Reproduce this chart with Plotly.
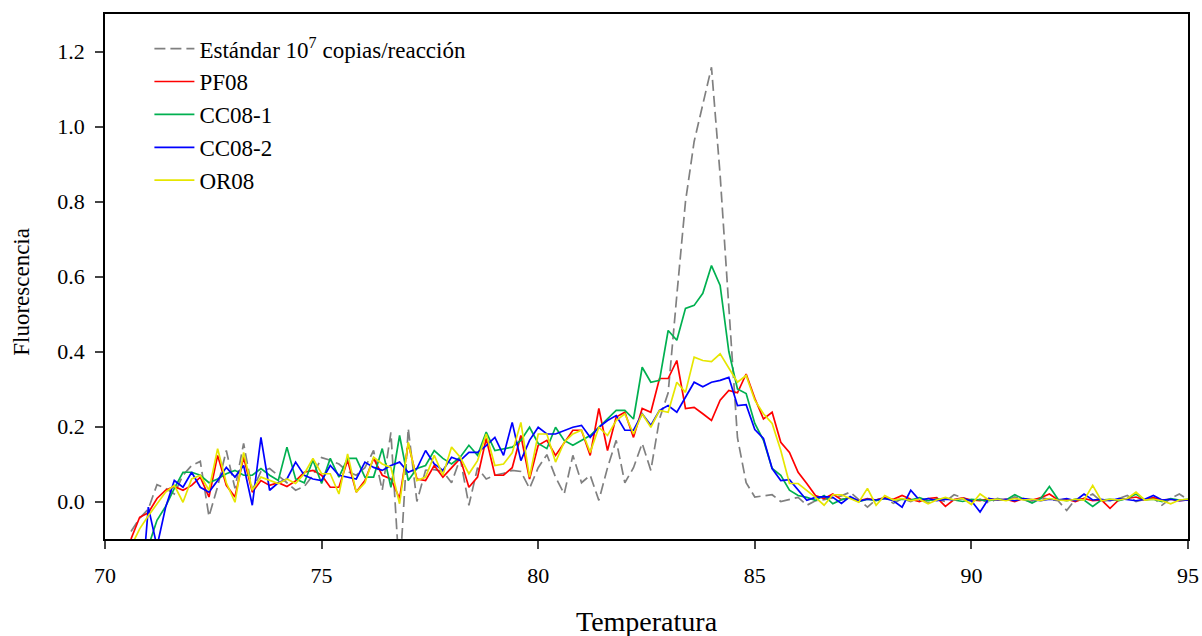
import plotly.graph_objects as go

# Temperature grid (°C), 0.2 °C steps
temperatura = [round(70.6 + 0.2 * i, 1) for i in range(123)]

estandar = [
    -0.08, -0.045, -0.02, 0.045, 0.035, 0.02, 0.07, 0.096, 0.107, -0.04,
    0.04, 0.136, 0.035, 0.155, 0.03, 0.08, 0.088, 0.07, 0.05, 0.03,
    0.04, 0.07, 0.117, 0.11, 0.1, 0.08, 0.07, 0.09, 0.136, 0.03,
    0.184, -0.2, 0.195, 0.0, 0.083, 0.085, 0.08, 0.05, 0.115, -0.01,
    0.09, 0.06, 0.07, 0.075, 0.083, 0.08, 0.035, 0.09, 0.125, 0.065,
    0.02, 0.123, 0.05, 0.07, 0.003, 0.09, 0.163, 0.05, 0.09, 0.155,
    0.083, 0.22, 0.29, 0.55, 0.80, 0.96, 1.06, 1.158, 0.87, 0.52,
    0.17, 0.05, 0.012, 0.015, 0.018, 0.0, 0.005, 0.011, -0.01, 0.002,
    0.005, 0.01, 0.015, 0.025, 0.005, -0.015, 0.005, 0.01, -0.005, 0.008,
    0.0, 0.01, -0.004, 0.006, 0.0, 0.018, 0.01, 0.0, 0.006, -0.004,
    0.008, 0.002, 0.012, 0.004, -0.002, 0.01, 0.006, 0.002, -0.024, 0.006,
    0.008, 0.02, 0.0, 0.004, 0.008, 0.016, 0.0, 0.006, 0.01, -0.01,
    0.008, 0.02, 0.005,
]

pf08 = [
    -0.1, -0.042, -0.03, 0.008, 0.03, 0.04, 0.03, 0.043, 0.065, 0.012,
    0.123, 0.043, 0.012, 0.118, 0.025, 0.056, 0.043, 0.05, 0.04, 0.055,
    0.078, 0.083, 0.07, 0.038, 0.038, 0.11, 0.025, 0.056, 0.115, 0.07,
    0.06, 0.008, 0.155, 0.06, 0.056, 0.096, 0.065, 0.09, 0.115, 0.038,
    0.065, 0.168, 0.07, 0.07, 0.09, 0.176, 0.06, 0.15, 0.163, 0.123,
    0.155, 0.19, 0.19, 0.123, 0.248, 0.136, 0.225, 0.238, 0.171, 0.248,
    0.238, 0.328, 0.328, 0.376, 0.248, 0.251, 0.234, 0.216, 0.27, 0.296,
    0.29, 0.34, 0.275, 0.22, 0.238, 0.158, 0.131, 0.078, 0.048, 0.016,
    0.008, 0.02, 0.005, 0.01, 0.002, 0.008, 0.004, 0.01, 0.006, 0.016,
    0.006, 0.0, 0.008, 0.01, -0.013, 0.005, 0.01, 0.004, 0.002, 0.008,
    0.004, 0.006, 0.0, 0.008, 0.004, 0.01, 0.02, 0.004, 0.006, 0.0,
    0.008, 0.002, 0.004, -0.018, 0.004, 0.008, 0.012, 0.004, 0.01, 0.004,
    0.006, 0.002, 0.004,
]

cc08_1 = [
    -0.25, -0.18, -0.12, -0.05, -0.013, 0.035, 0.078, 0.078, 0.07, 0.05,
    0.06, 0.074, 0.083, 0.07, 0.07, 0.088, 0.07, 0.056, 0.145, 0.06,
    0.05, 0.11, 0.048, 0.115, 0.065, 0.115, 0.115, 0.065, 0.065, 0.141,
    0.038, 0.176, 0.056, 0.088, 0.096, 0.136, 0.115, 0.1, 0.118, 0.15,
    0.123, 0.185, 0.136, 0.141, 0.145, 0.163, 0.198, 0.155, 0.141, 0.198,
    0.163, 0.15, 0.163, 0.176, 0.198, 0.22, 0.243, 0.243, 0.22, 0.358,
    0.318, 0.323, 0.456, 0.43, 0.515, 0.523, 0.555, 0.629, 0.576, 0.4,
    0.3, 0.288, 0.208, 0.163, 0.088, 0.07, 0.03, 0.016, 0.011, 0.003,
    0.016, -0.006, 0.005, 0.01, 0.0, 0.006, 0.002, 0.008, 0.004, 0.006,
    0.004, 0.01, 0.002, 0.006, 0.008, 0.004, 0.0, 0.006, 0.004, 0.002,
    0.006, 0.004, 0.018, 0.006, -0.004, 0.008, 0.04, 0.006, 0.002, 0.006,
    0.004, -0.013, 0.004, 0.006, 0.002, 0.008, 0.02, 0.004, 0.006, 0.0,
    0.008, 0.004, 0.006,
]

cc08_2 = [
    -0.35, -0.3, -0.015, -0.12, -0.015, 0.056, 0.038, 0.078, 0.038, 0.025,
    0.056, 0.091, 0.065, 0.096, -0.01, 0.171, 0.03, 0.05, 0.06, 0.105,
    0.07, 0.06, 0.056, 0.096, 0.07, 0.065, 0.06, 0.105, 0.091, 0.083,
    0.096, 0.105, 0.078, 0.088, 0.136, 0.1, 0.083, 0.118, 0.109, 0.131,
    0.131, 0.149, 0.171, 0.123, 0.211, 0.109, 0.163, 0.198, 0.18, 0.18,
    0.19, 0.198, 0.203, 0.171, 0.198, 0.216, 0.229, 0.19, 0.19, 0.234,
    0.203, 0.243, 0.256, 0.238, 0.278, 0.318, 0.306, 0.318, 0.323, 0.331,
    0.256, 0.258, 0.192, 0.168, 0.088, 0.056, 0.058, 0.03, 0.003, 0.011,
    0.013, 0.011, -0.005, 0.013, 0.001, 0.006, 0.004, 0.008, 0.002, -0.015,
    0.03, 0.004, 0.008, 0.002, 0.006, 0.004, 0.008, 0.002, -0.028, 0.008,
    0.004, 0.006, 0.002, 0.008, 0.004, 0.002, 0.006, 0.004, 0.008, 0.002,
    0.02, 0.004, 0.006, 0.002, 0.008, 0.004, 0.002, 0.006, 0.016, 0.004,
    0.006, 0.002, 0.004,
]

or08 = [
    -0.12, -0.073, -0.038, -0.006, 0.025, 0.043, -0.002, 0.06, 0.07, 0.03,
    0.141, 0.05, -0.002, 0.131, 0.03, 0.065, 0.056, 0.048, 0.06, 0.048,
    0.074, 0.115, 0.074, 0.074, 0.02, 0.127, 0.025, 0.05, 0.118, 0.1,
    0.091, -0.006, 0.158, 0.056, 0.065, 0.123, 0.07, 0.145, 0.118, 0.074,
    0.109, 0.18, 0.096, 0.1, 0.13, 0.211, 0.065, 0.18, 0.18, 0.105,
    0.158, 0.18, 0.19, 0.131, 0.198, 0.176, 0.216, 0.234, 0.18, 0.234,
    0.198, 0.243, 0.238, 0.318, 0.291, 0.385, 0.376, 0.373, 0.394, 0.355,
    0.318, 0.336, 0.27, 0.234, 0.208, 0.136, 0.048, 0.048, 0.03, 0.011,
    -0.01, 0.018, 0.018, 0.008, -0.002, 0.035, -0.01, 0.016, 0.004, 0.008,
    0.002, 0.006, -0.006, 0.004, 0.011, 0.004, 0.008, -0.008, 0.02, 0.004,
    0.006, 0.002, 0.008, 0.004, 0.006, 0.002, 0.008, 0.004, 0.002, 0.006,
    0.004, 0.043, 0.002, 0.006, 0.004, 0.008, 0.025, 0.004, 0.006, 0.002,
    -0.006, 0.004, 0.006,
]

x_ticks = [70, 75, 80, 85, 90, 95]
y_ticks = [0.0, 0.2, 0.4, 0.6, 0.8, 1.0, 1.2]
x_title = "Temperatura"
y_title = "Fluorescencia"

series = [
    ("Estándar 10<sup>7</sup> copias/reacción", estandar, "#808080", "11px,5px"),
    ("PF08", pf08, "#FF0000", "solid"),
    ("CC08-1", cc08_1, "#00B050", "solid"),
    ("CC08-2", cc08_2, "#0000FF", "solid"),
    ("OR08", or08, "#E6E600", "solid"),
]

fig = go.Figure()
for name, vals, color, dash in series:
    fig.add_trace(go.Scatter(
        x=temperatura, y=vals, mode="lines", name=name,
        line=dict(color=color, width=1.7, dash=dash),
    ))

font_family = "Liberation Serif, Times New Roman, serif"
fig.update_layout(
    width=1202, height=636,
    margin=dict(l=105, r=14, t=14, b=97, autoexpand=False),
    paper_bgcolor="white", plot_bgcolor="white",
    font=dict(family=font_family, size=21, color="black"),
    showlegend=True,
    legend=dict(x=0.041, y=0.975, xanchor="left", yanchor="top",
                bgcolor="rgba(0,0,0,0)", font=dict(size=23, family=font_family),
                itemwidth=40, tracegroupgap=0),
    annotations=[
        dict(text=x_title, xref="paper", yref="paper", x=0.5, y=-0.158,
             xanchor="center", yanchor="middle", showarrow=False,
             font=dict(size=28, family=font_family)),
        dict(text=y_title, xref="paper", yref="paper", x=-0.0766, y=0.471,
             xanchor="center", yanchor="middle", showarrow=False, textangle=-90,
             font=dict(size=23, family=font_family)),
    ],
)
fig.update_xaxes(
    range=[70, 95], tickvals=x_ticks, ticks="outside", ticklen=8, tickwidth=1.5,
    showline=True, linecolor="black", linewidth=1.5, mirror=True,
    showgrid=False, zeroline=False, automargin=False,
    ticklabelstandoff=8, tickfont=dict(size=22),
)
fig.update_yaxes(
    range=[-0.1, 1.3], tickvals=y_ticks, tickformat=".1f", ticks="outside",
    ticklen=8, tickwidth=1.5,
    showline=True, linecolor="black", linewidth=1.5, mirror=True,
    showgrid=False, zeroline=False, automargin=False,
    ticklabelstandoff=6, tickfont=dict(size=22),
)

fig.write_html("out.html")
